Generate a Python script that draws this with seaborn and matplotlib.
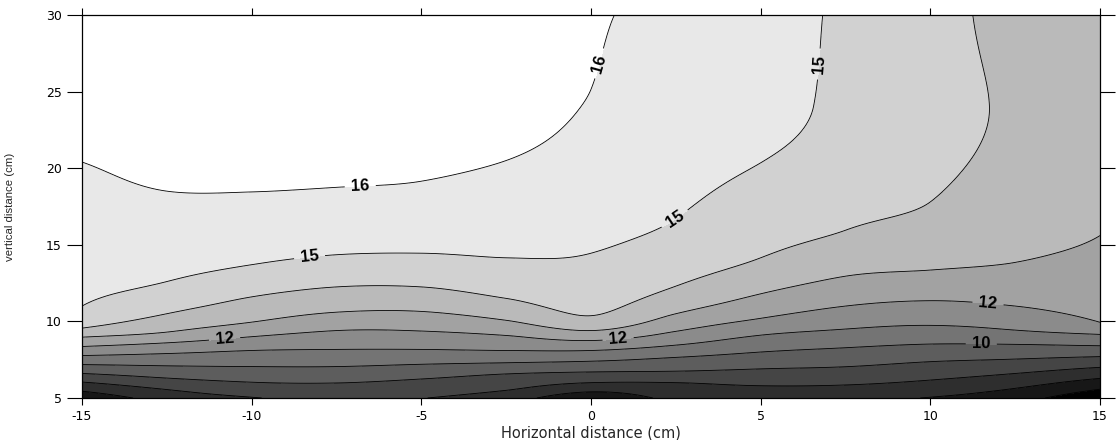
import numpy as np
import matplotlib
matplotlib.use("Agg")
import matplotlib.pyplot as plt
import seaborn as sns

nan = np.nan

x_cols = [-15, -12.5, -10, -7.5, -5, -2.5, 0, 2.5, 5, 7.5, 10, 12.5, 15]

# value at the bottom (5 cm), at 24 cm (where needed) and at the top (30 cm)
z_bottom = [6.3, 7.4, 7.95, 8.25, 8.03, 7.45, 6.33, 7.24, 7.3, 7.25, 6.95, 6.37, 5.2]
z_mid24 = [nan, nan, nan, nan, nan, 16.3, 15.95, nan, 15.3, 14.8, 14.35, 13.85, nan]
z_top = [16.8, 16.8, 16.8, 16.8, 16.7, 16.5, 16.1, 15.75, 15.4, 14.85, 14.35, 13.7, 13.6]

# height (cm) where each contour level crosses each column, nan = not crossed
h6 = [nan, nan, nan, nan, nan, nan, nan, nan, nan, nan, nan, nan, 5.57]
h7 = [5.44, nan, nan, nan, nan, nan, 5.4, nan, nan, nan, 5.05, 5.63, 6.28]
h8 = [6.04, 5.55, 5.05, nan, nan, 5.5, 6.0, 6.0, 5.8, 5.85, 6.17, 6.6, 7.0]
h9 = [6.6, 6.3, 6.03, 5.98, 6.24, 6.57, 6.7, 6.75, 6.9, 7.04, 7.37, 7.54, 7.7]
h10 = [7.18, 7.1, 7.05, 7.05, 7.2, 7.3, 7.4, 7.65, 8.0, 8.28, 8.52, 8.5, 8.41]
h11 = [7.77, 7.9, 8.1, 8.17, 8.17, 8.1, 8.1, 8.45, 9.1, 9.5, 9.74, 9.43, 9.15]
h12 = [8.36, 8.6, 9.0, 9.4, 9.37, 9.08, 8.75, 9.35, 10.2, 11.0, 11.35, 11.0, 9.94]
h13 = [8.97, 9.3, 9.95, 10.6, 10.65, 10.07, 9.4, 10.5, 11.8, 12.95, 13.35, 13.85, 15.6]
h14 = [9.56, 10.5, 11.6, 12.25, 12.25, 11.5, 10.37, 12.3, 14.15, 15.95, 17.8, nan, nan]
h15 = [11.0, 12.6, 13.7, 14.35, 14.45, 14.15, 14.45, 16.7, 20.35, nan, nan, nan, nan]
h16 = [20.4, 18.5, 18.45, 18.75, 19.15, 20.5, 25.15, nan, nan, nan, nan, nan, nan]

levels = [6, 7, 8, 9, 10, 11, 12, 13, 14, 15, 16]
crossings = [h6, h7, h8, h9, h10, h11, h12, h13, h14, h15, h16]
labelled = [10, 12, 15, 16]

x_ticks = [-15, -10, -5, 0, 5, 10, 15]
y_ticks = [5, 10, 15, 20, 25, 30]

# label positions along the contour lines
label_pos = [(-6.8, 18.8), (0.3, 26.8), (-8.3, 14.3), (2.5, 16.6), (6.7, 26.8),
             (-10.8, 8.9), (0.8, 8.8), (11.7, 11.2), (11.5, 8.5)]


def pchip(xk, yk, xq):
    # monotone cubic through the anchors, keeps each crossing where it was read
    xk = np.asarray(xk, float)
    yk = np.asarray(yk, float)
    h = np.diff(xk)
    d = np.diff(yk) / h
    m = np.zeros_like(yk)
    for i in range(1, len(xk) - 1):
        if d[i - 1] * d[i] > 0:
            w1 = 2 * h[i] + h[i - 1]
            w2 = h[i] + 2 * h[i - 1]
            m[i] = (w1 + w2) / (w1 / d[i - 1] + w2 / d[i])
    m[0], m[-1] = d[0], d[-1]
    k = np.clip(np.searchsorted(xk, xq) - 1, 0, len(xk) - 2)
    t = (xq - xk[k]) / h[k]
    return ((2 * t**3 - 3 * t**2 + 1) * yk[k] + (t**3 - 2 * t**2 + t) * h[k] * m[k]
            + (-2 * t**3 + 3 * t**2) * yk[k + 1] + (t**3 - t**2) * h[k] * m[k + 1])


# field along each column from the readings
y_fine = np.linspace(5, 30, 501)
xc = np.array(x_cols, dtype=float)
Zc = np.zeros((len(y_fine), len(xc)))
for j in range(len(xc)):
    hs = [5.0, 30.0]
    vs = [z_bottom[j], z_top[j]]
    if not np.isnan(z_mid24[j]):
        hs.append(24.0)
        vs.append(z_mid24[j])
    for lv, h in zip(levels, crossings):
        if not np.isnan(h[j]):
            hs.append(h[j])
            vs.append(lv)
    order = np.argsort(hs)
    Zc[:, j] = pchip(np.array(hs)[order], np.array(vs)[order], y_fine)

# between the columns: cubic with central-difference slopes
step = xc[1] - xc[0]
slope = np.zeros_like(Zc)
slope[:, 1:-1] = (Zc[:, 2:] - Zc[:, :-2]) / (2 * step)
slope[:, 0] = (Zc[:, 1] - Zc[:, 0]) / step
slope[:, -1] = (Zc[:, -1] - Zc[:, -2]) / step

x_fine = np.linspace(-15, 15, 361)
k = np.clip(np.searchsorted(xc, x_fine) - 1, 0, len(xc) - 2)
t = (x_fine - xc[k]) / step
Z = ((2 * t**3 - 3 * t**2 + 1) * Zc[:, k] + (t**3 - 2 * t**2 + t) * step * slope[:, k]
     + (-2 * t**3 + 3 * t**2) * Zc[:, k + 1] + (t**3 - t**2) * step * slope[:, k + 1])

X, Y = np.meshgrid(x_fine, y_fine)

sns.set_style("ticks")
plt.rcParams['font.family'] = ['DejaVu Sans']
plt.rcParams['axes.unicode_minus'] = False

band_colors = [plt.cm.gray(v) for v in np.linspace(0, 1, 12)]

fig = plt.figure(figsize=(11.16, 4.4), dpi=100)
ax = fig.add_axes([0.0735, 0.0955, 0.9122, 0.8705])

ax.contourf(X, Y, Z, levels=np.arange(5, 18), colors=band_colors)
ax.contour(X, Y, Z, levels=[lv for lv in levels if lv not in labelled],
           colors='k', linewidths=0.6)
cs = ax.contour(X, Y, Z, levels=labelled, colors='k', linewidths=0.6)
texts = ax.clabel(cs, manual=label_pos, fmt='%d',
                  fontsize=12, inline=True, inline_spacing=5)
for t_ in texts:
    t_.set_fontweight('bold')
    t_.set_fontfamily(['Liberation Sans', 'DejaVu Sans'])

ax.set_xlim(-15, 15)
ax.set_ylim(5, 30)
ax.set_xticks(x_ticks)
ax.set_yticks(y_ticks)
ax.tick_params(direction='out', top=True, right=True, labelsize=9, width=0.8, colors='k')
ax.tick_params(axis='y', length=11)
ax.tick_params(axis='x', length=5)
for s in ax.spines.values():
    s.set_color('k')
    s.set_linewidth(0.9)

ax.set_xlabel('Horizontal distance (cm)', fontsize=10.5, labelpad=2)
ax.set_ylabel('vertical distance (cm)', fontsize=8.2,
              family=['Liberation Sans Narrow', 'Liberation Sans'])
ax.yaxis.set_label_coords(-0.066, 0.5)

fig.savefig('out.png', dpi=100)
